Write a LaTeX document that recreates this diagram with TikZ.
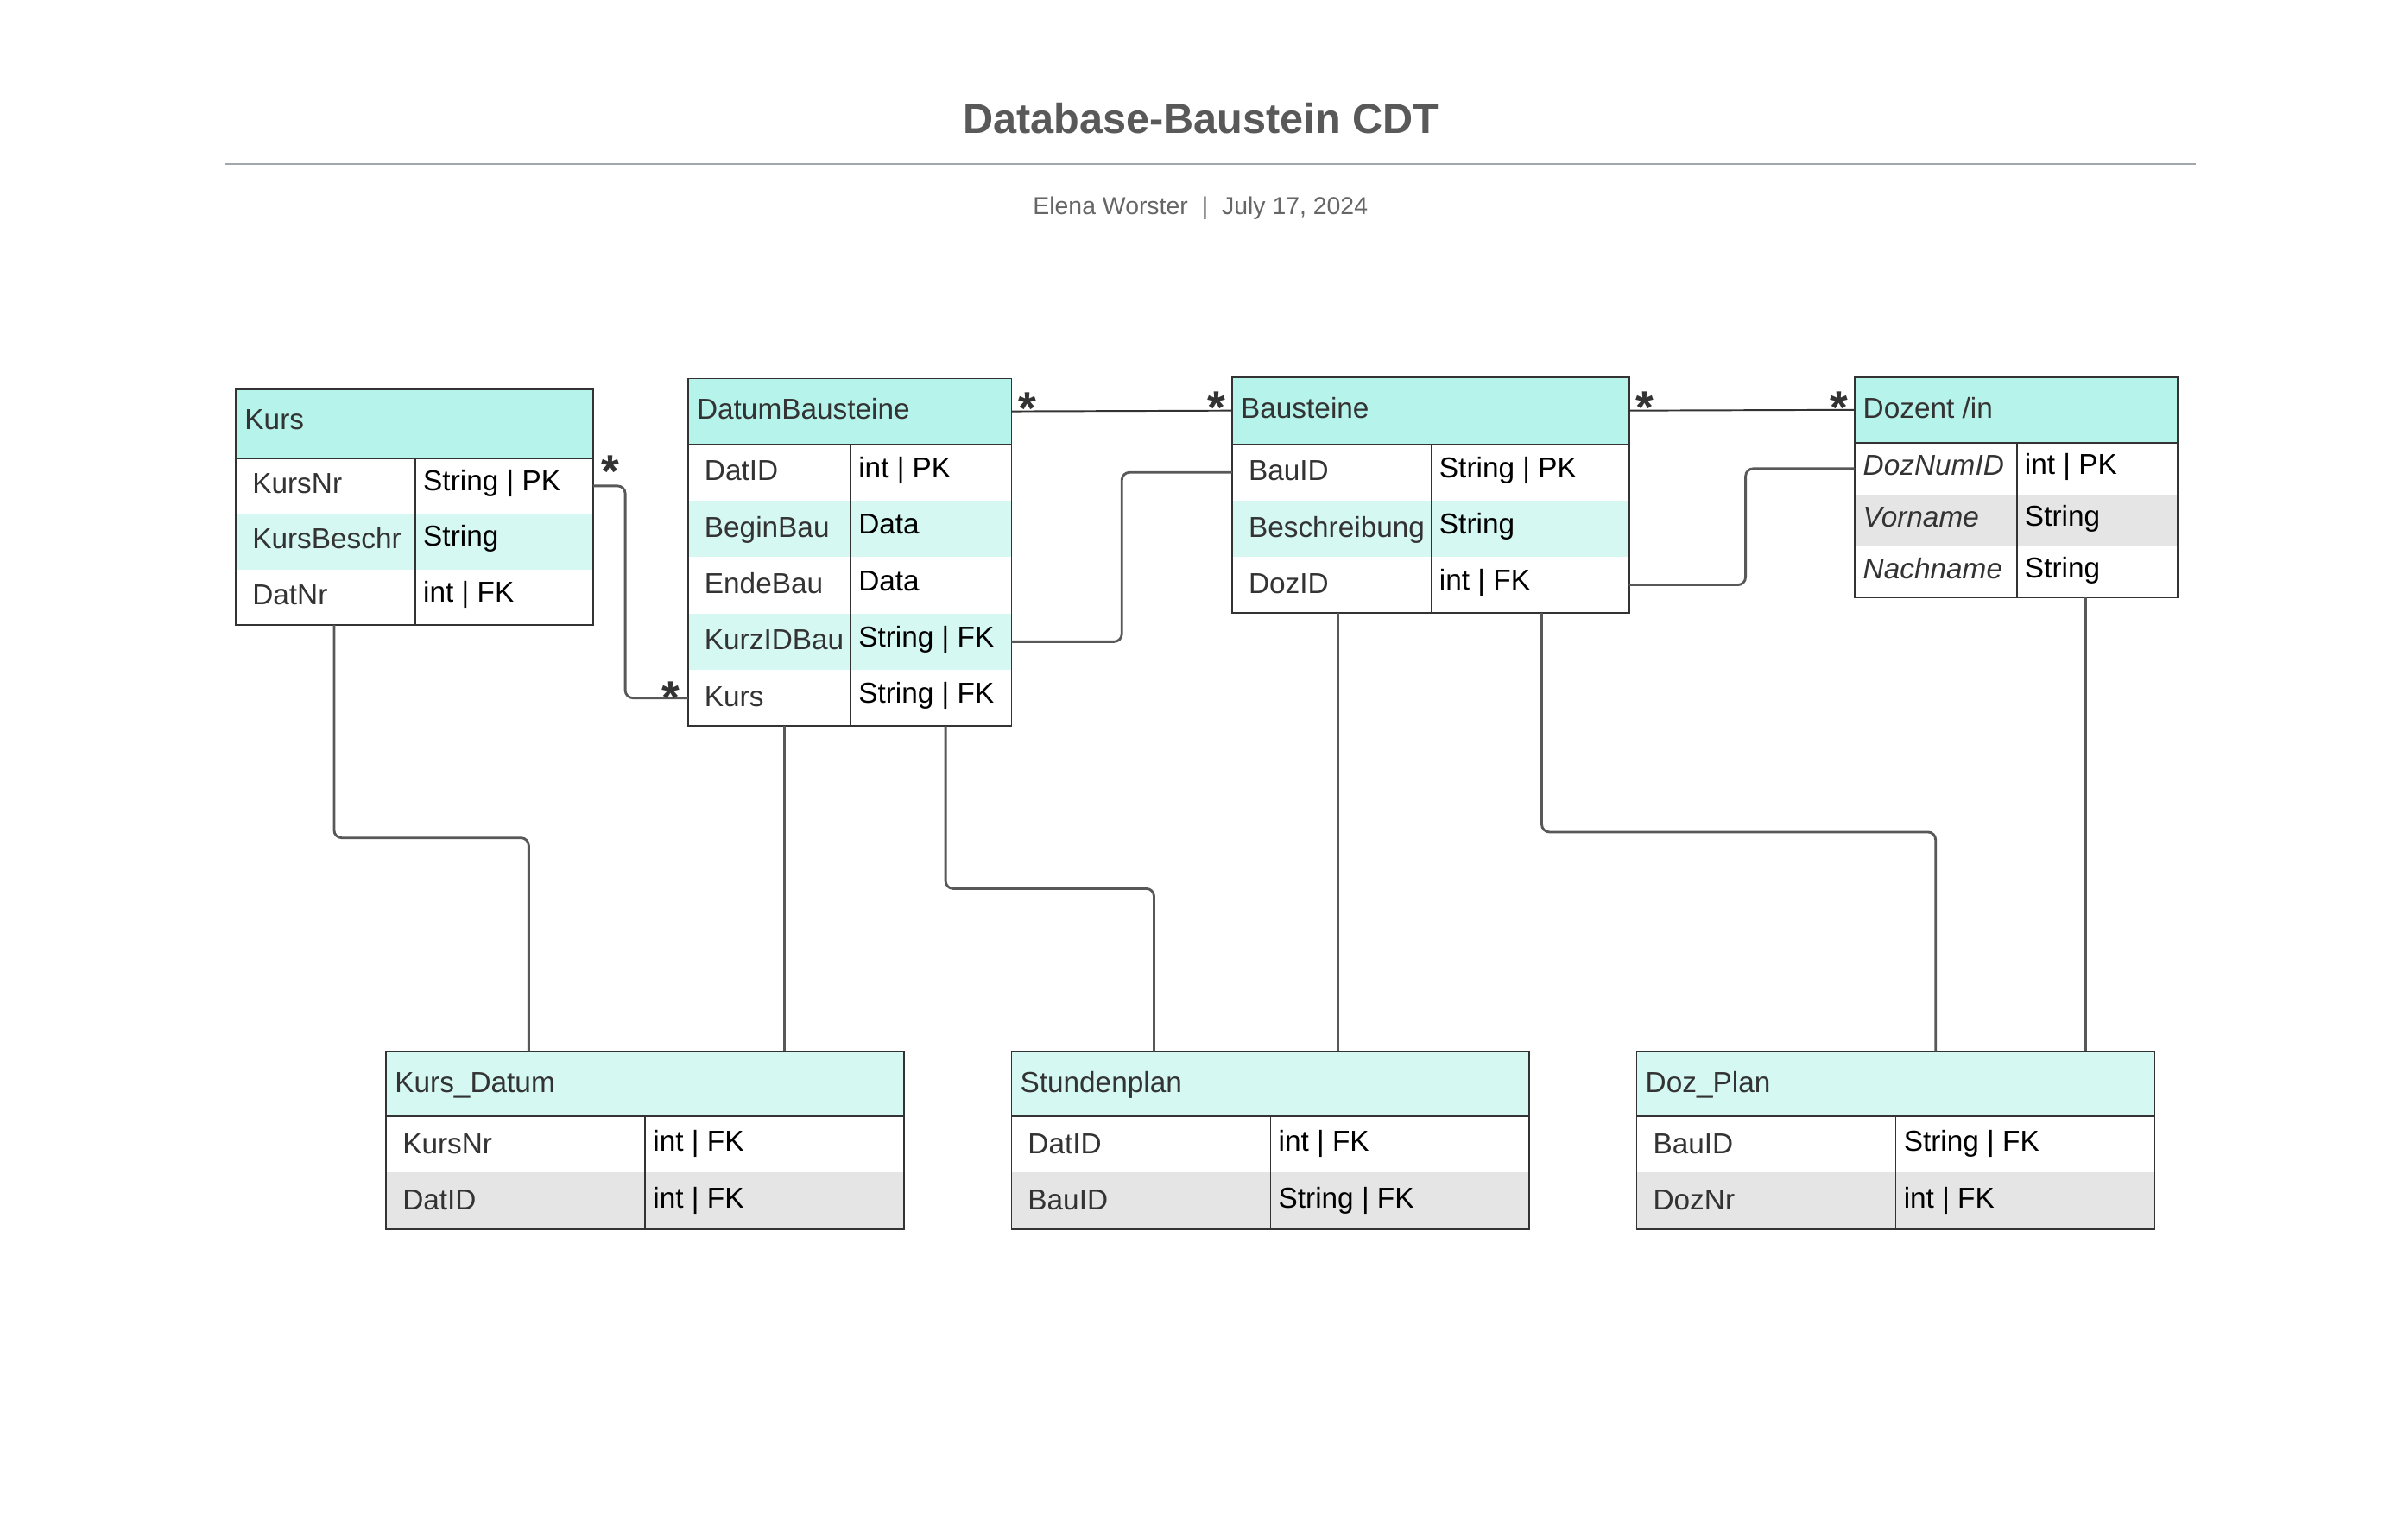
\documentclass[tikz,border=0pt]{standalone}
\usepackage{fontspec}
\setmainfont{Liberation Sans}
\definecolor{head_teal}{RGB}{182, 243, 234}
\definecolor{row_teal}{RGB}{213, 248, 242}
\definecolor{row_gray}{RGB}{229, 229, 229}
\definecolor{box_line}{RGB}{51, 51, 51}
\definecolor{link_gray}{RGB}{88, 88, 88}
\definecolor{title_gray}{RGB}{89, 89, 89}
\definecolor{sub_gray}{RGB}{102, 102, 102}
\definecolor{rule_gray}{RGB}{160, 168, 174}

\begin{document}
\begin{tikzpicture}[x=1pt, y=-1pt,
  head/.style={anchor=north west, inner sep=0pt, outer sep=0pt, fill=head_teal},
  row/.style={anchor=north west, inner sep=0pt, outer sep=0pt},
  frame/.style={draw=box_line, line width=1pt},
  head_text/.style={anchor=base west, inner sep=0pt, text=box_line, font=\fontsize{18.8}{22}\selectfont},
  attr_text/.style={head_text},
  type_text/.style={anchor=base west, inner sep=0pt, text=black, font=\fontsize{18.8}{22}\selectfont},
  link/.style={draw=link_gray, line width=1.6pt, rounded corners=5pt},
  assoc/.style={draw=box_line, line width=1.1pt},
  many/.style={anchor=north, inner sep=0pt, text=box_line, font=\bfseries\fontsize{30}{30}\selectfont}]

\path[fill=white] (0,0) rectangle (1568,1004.6);

% title
\node[anchor=base, inner sep=0pt, text=title_gray, font=\bfseries\fontsize{27.4}{30}\selectfont] (title) at (783.7,86.8) {Database-Baustein CDT};
\draw[rule_gray, line width=1.3pt] (147,107) -- (1433,107);
\node[anchor=base, inner sep=0pt, text=sub_gray, font=\fontsize{16}{18}\selectfont] (author) at (783.3,139.9) {Elena Worster\hspace{9pt}|\hspace{9pt}July 17, 2024};

% Kurs
\node[head, minimum width=233pt, minimum height=45pt] (kurs) at (154,254) {};
\node[head_text] at ([xshift=5.5pt, yshift=-26.5pt]kurs.north west) {Kurs};
\foreach \i/\attr/\type/\bg in {0/KursNr/String | PK/white, 1/KursBeschr/String/row_teal, 2/DatNr/int | FK/white} {
  \node[row, fill=\bg, minimum width=233pt, minimum height=36.3pt] (kurs_\i) at (154, {299+36.3*\i}) {};
  \node[attr_text] at ([xshift=10.5pt, yshift=-23pt]kurs_\i.north west) {\attr};
  \node[type_text] at ([xshift=122pt, yshift=-21.2pt]kurs_\i.north west) {\type};
}
\draw[frame] (kurs.north west) rectangle (kurs_2.south east);
\draw[frame] (kurs.south west) -- (kurs.south east);
\draw[frame] ([xshift=117pt]kurs_0.north west) -- ([xshift=117pt]kurs_2.south west);

% DatumBausteine
\node[head, minimum width=211pt, minimum height=43pt] (datum) at (449,247) {};
\node[head_text] at ([xshift=5.5pt, yshift=-26.3pt]datum.north west) {DatumBausteine};
\foreach \i/\attr/\type/\bg in {0/DatID/int | PK/white, 1/BeginBau/Data/row_teal, 2/EndeBau/Data/white, 3/KurzIDBau/String | FK/row_teal, 4/Kurs/String | FK/white} {
  \node[row, fill=\bg, minimum width=211pt, minimum height=36.8pt] (datum_\i) at (449, {290+36.8*\i}) {};
  \node[attr_text] at ([xshift=10.5pt, yshift=-23.8pt]datum_\i.north west) {\attr};
  \node[type_text] at ([xshift=111pt, yshift=-21.8pt]datum_\i.north west) {\type};
}
\draw[frame] (datum.north west) rectangle (datum_4.south east);
\draw[frame] (datum.south west) -- (datum.south east);
\draw[frame] ([xshift=106pt]datum_0.north west) -- ([xshift=106pt]datum_4.south west);

% Bausteine
\node[head, minimum width=259pt, minimum height=44pt] (baus) at (804,246) {};
\node[head_text] at ([xshift=5.5pt, yshift=-26.8pt]baus.north west) {Bausteine};
\foreach \i/\attr/\type/\bg in {0/BauID/String | PK/white, 1/Beschreibung/String/row_teal, 2/DozID/int | FK/white} {
  \node[row, fill=\bg, minimum width=259pt, minimum height=36.7pt] (baus_\i) at (804, {290+36.7*\i}) {};
  \node[attr_text] at ([xshift=10.5pt, yshift=-23.8pt]baus_\i.north west) {\attr};
  \node[type_text] at ([xshift=135pt, yshift=-21.8pt]baus_\i.north west) {\type};
}
\draw[frame] (baus.north west) rectangle (baus_2.south east);
\draw[frame] (baus.south west) -- (baus.south east);
\draw[frame] ([xshift=130pt]baus_0.north west) -- ([xshift=130pt]baus_2.south west);

% Dozent /in
\node[head, minimum width=211pt, minimum height=43pt] (doz) at (1210,246) {};
\node[head_text] at ([xshift=5.5pt, yshift=-26.8pt]doz.north west) {Dozent /in};
\foreach \i/\attr/\type/\bg in {0/DozNumID/int | PK/white, 1/Vorname/String/row_gray, 2/Nachname/String/white} {
  \node[row, fill=\bg, minimum width=211pt, minimum height=33.7pt] (doz_\i) at (1210, {289+33.7*\i}) {};
  \node[attr_text] at ([xshift=5.5pt, yshift=-21.2pt]doz_\i.north west) {\itshape\attr};
  \node[type_text] at ([xshift=111pt, yshift=-20.8pt]doz_\i.north west) {\type};
}
\draw[frame] (doz.north west) rectangle (doz_2.south east);
\draw[frame] (doz.south west) -- (doz.south east);
\draw[frame] ([xshift=106pt]doz_0.north west) -- ([xshift=106pt]doz_2.south west);

% Kurs_Datum
\node[head, fill=row_teal, minimum width=338pt, minimum height=42pt] (kd) at (252,686.5) {};
\node[head_text] at ([xshift=5.5pt, yshift=-26.3pt]kd.north west) {Kurs\_Datum};
\foreach \i/\attr/\type/\bg in {0/KursNr/int | FK/white, 1/DatID/int | FK/row_gray} {
  \node[row, fill=\bg, minimum width=338pt, minimum height=36.8pt] (kd_\i) at (252, {728.5+36.8*\i}) {};
  \node[attr_text] at ([xshift=10.5pt, yshift=-24.5pt]kd_\i.north west) {\attr};
  \node[type_text] at ([xshift=174pt, yshift=-23pt]kd_\i.north west) {\type};
}
\draw[frame] (kd.north west) rectangle (kd_1.south east);
\draw[frame] (kd.south west) -- (kd.south east);
\draw[frame] ([xshift=169pt]kd_0.north west) -- ([xshift=169pt]kd_1.south west);

% Stundenplan
\node[head, fill=row_teal, minimum width=338pt, minimum height=42pt] (sp) at (660,686.5) {};
\node[head_text] at ([xshift=5.5pt, yshift=-26.3pt]sp.north west) {Stundenplan};
\foreach \i/\attr/\type/\bg in {0/DatID/int | FK/white, 1/BauID/String | FK/row_gray} {
  \node[row, fill=\bg, minimum width=338pt, minimum height=36.8pt] (sp_\i) at (660, {728.5+36.8*\i}) {};
  \node[attr_text] at ([xshift=10.5pt, yshift=-24.5pt]sp_\i.north west) {\attr};
  \node[type_text] at ([xshift=174pt, yshift=-23pt]sp_\i.north west) {\type};
}
\draw[frame] (sp.north west) rectangle (sp_1.south east);
\draw[frame] (sp.south west) -- (sp.south east);
\draw[frame] ([xshift=169pt]sp_0.north west) -- ([xshift=169pt]sp_1.south west);

% Doz_Plan
\node[head, fill=row_teal, minimum width=338pt, minimum height=42pt] (dp) at (1068,686.5) {};
\node[head_text] at ([xshift=5.5pt, yshift=-26.3pt]dp.north west) {Doz\_Plan};
\foreach \i/\attr/\type/\bg in {0/BauID/String | FK/white, 1/DozNr/int | FK/row_gray} {
  \node[row, fill=\bg, minimum width=338pt, minimum height=36.8pt] (dp_\i) at (1068, {728.5+36.8*\i}) {};
  \node[attr_text] at ([xshift=10.5pt, yshift=-24.5pt]dp_\i.north west) {\attr};
  \node[type_text] at ([xshift=174pt, yshift=-23pt]dp_\i.north west) {\type};
}
\draw[frame] (dp.north west) rectangle (dp_1.south east);
\draw[frame] (dp.south west) -- (dp.south east);
\draw[frame] ([xshift=169pt]dp_0.north west) -- ([xshift=169pt]dp_1.south west);

% many-to-many links
\draw[link] (kurs_0.east) node[many, xshift=11pt, yshift=20.6pt] {*} -- ++(21,0) |- (datum_4.west) node[many, xshift=-11.3pt, yshift=11.5pt] {*};
\draw[assoc] (datum.east) node[many, xshift=10.4pt, yshift=12.8pt] {*} -- (baus.west) node[many, xshift=-10pt, yshift=12.6pt] {*};
\draw[assoc] (baus.east) node[many, xshift=10.4pt, yshift=12.8pt] {*} -- (doz.west) node[many, xshift=-10pt, yshift=12.6pt] {*};

% key links
\draw[link] (datum_3.east) -- ++(72,0) |- (baus_0.west);
\draw[link] (baus_2.east) -- ++(76,0) |- (doz_0.west);
\draw[link] ([xshift=64pt]kurs_2.south west) -- ++(0,139) -| ([xshift=93pt]kd.north west);
\draw[link] ([xshift=63pt]datum_4.south west) -- ([xshift=260pt]kd.north west);
\draw[link] ([xshift=168pt]datum_4.south west) -- ++(0,106) -| ([xshift=93pt]sp.north west);
\draw[link] ([xshift=69pt]baus_2.south west) -- ([xshift=213pt]sp.north west);
\draw[link] ([xshift=202pt]baus_2.south west) -- ++(0,143) -| ([xshift=195pt]dp.north west);
\draw[link] ([xshift=151pt]doz_2.south west) -- ([xshift=293pt]dp.north west);

\end{tikzpicture}
\end{document}
